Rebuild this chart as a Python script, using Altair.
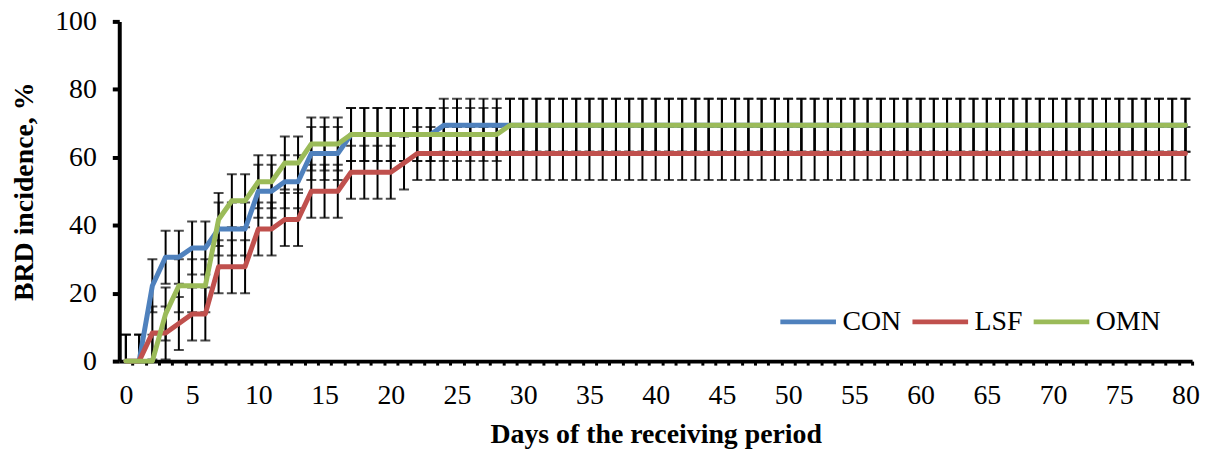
import altair as alt
import pandas as pd

# ---- data ----
days = list(range(0, 81))
series_names = ["CON", "LSF", "OMN"]
series_colors = ["#4F81BD", "#C0504D", "#9BBB59"]

con = ([0, 0, 22.2, 30.6, 30.6, 33.3, 33.3, 38.9, 38.9, 38.9, 50.0, 50.0,
        52.8, 52.8, 61.1, 61.1, 61.1] + [66.7] * 7 + [69.4] * 57)
lsf = ([0, 0, 8.3, 8.3, 11.1, 13.9, 13.9, 27.8, 27.8, 27.8, 38.9, 38.9,
        41.7, 41.7, 50.0, 50.0, 50.0, 55.6, 55.6, 55.6, 55.6, 58.3] + [61.1] * 59)
omn = ([0, 0, 0, 13.9, 22.2, 22.2, 22.2, 41.7, 47.2, 47.2, 52.8, 52.8,
        58.3, 58.3, 63.9, 63.9, 63.9] + [66.7] * 12 + [69.4] * 52)
se_con = [7.8] * 81
se_lsf = [7.8] * 81
se_omn = [7.8] * 81

x_label_values = list(range(0, 81))
y_tick_values = [0, 20, 40, 60, 80, 100]

rows = []
for name, vals, ses in zip(series_names, [con, lsf, omn], [se_con, se_lsf, se_omn]):
    for d, v, s in zip(days, vals, ses):
        rows.append({"series": name, "day": d, "value": v, "lo": v - s, "hi": v + s})
df = pd.DataFrame(rows)

FONT = "Liberation Serif"
half = 1080 / 81 / 2

x_axis = alt.Axis(
    values=x_label_values,
    labelExpr="datum.value % 5 == 0 ? datum.label : ''",
    tickOffset=half, labelOffset=-half,
    tickSize=4, tickWidth=3, tickColor="black",
    domainWidth=4, domainColor="black",
    labelFont=FONT, labelFontSize=28, labelColor="black", labelPadding=17,
    labelOverlap=False, labelFlush=False, labelBound=False,
    title="Days of the receiving period", titleFont=FONT, titleFontSize=28,
    titleFontWeight="bold", titleColor="black", titlePadding=11, grid=False,
)
y_axis = alt.Axis(
    values=y_tick_values,
    tickSize=7, tickWidth=4, tickColor="black",
    domainWidth=4, domainColor="black",
    labelFont=FONT, labelFontSize=28, labelColor="black", labelPadding=16,
    labelOverlap=False,
    title="BRD incidence, %", titleFont=FONT, titleFontSize=28,
    titleFontWeight="bold", titleColor="black", titlePadding=16, grid=False,
)

xs = alt.Scale(domain=[-0.5, 80.5], nice=False, zero=False)
ys = alt.Scale(domain=[0, 100], nice=False)

def X():
    return alt.X("day:Q", scale=xs, axis=x_axis)

def Y(field):
    return alt.Y(field, scale=ys, axis=y_axis)

base = alt.Chart(df)

rules = base.mark_rule(color="black", strokeWidth=2, clip=True).encode(
    x=X(), y=Y("lo:Q"), y2="hi:Q", detail="series:N",
)
caps_hi = base.mark_tick(color="black", orient="horizontal", size=10, thickness=2, clip=True).encode(
    x=X(), y=Y("hi:Q"), detail="series:N"
)
caps_lo = base.mark_tick(color="black", orient="horizontal", size=10, thickness=2, clip=True).encode(
    x=X(), y=Y("lo:Q"), detail="series:N"
)

color = alt.Color(
    "series:N",
    scale=alt.Scale(domain=series_names, range=series_colors),
    legend=alt.Legend(
        orient="none", legendX=663, legendY=272, direction="horizontal", title=None,
        symbolType="stroke", symbolSize=3136, symbolStrokeWidth=5,
        labelFont=FONT, labelFontSize=28, labelColor="black", labelOffset=4,
        columnPadding=0, padding=0, gridAlign="none",
    ),
)

lines = []
for name in series_names:
    lines.append(
        base.transform_filter(alt.datum.series == name)
        .mark_line(strokeWidth=5, strokeJoin="round", strokeCap="round")
        .encode(x=X(), y=Y("value:Q"), color=color)
    )

chart = (
    alt.layer(rules, caps_hi, caps_lo, *lines)
    .properties(
        width=1080, height=342,
        autosize=alt.AutoSizeParams(type="none"),
        padding={"left": 112, "top": 12, "right": 15, "bottom": 88},
        background="white",
    )
    .configure_view(strokeWidth=0)
)

chart.save("out.html", embed_options={"renderer": "svg", "actions": False})
